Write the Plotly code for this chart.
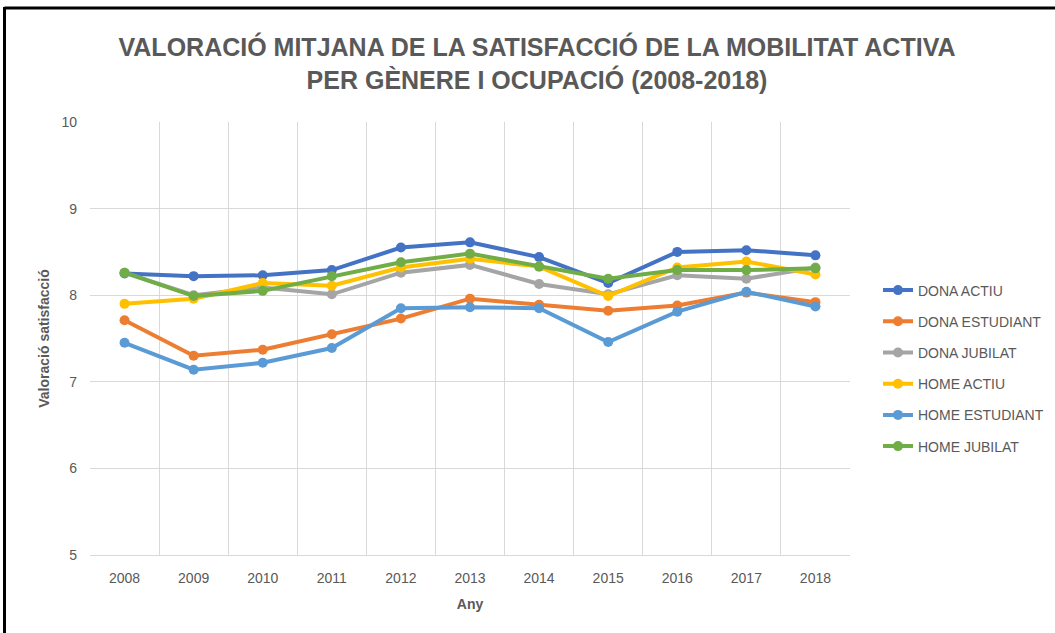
import plotly.graph_objects as go

years = ["2008", "2009", "2010", "2011", "2012", "2013", "2014", "2015", "2016", "2017", "2018"]

dona_actiu = [8.25, 8.22, 8.23, 8.29, 8.55, 8.61, 8.44, 8.14, 8.50, 8.52, 8.46]
dona_estudiant = [7.71, 7.30, 7.37, 7.55, 7.73, 7.96, 7.89, 7.82, 7.88, 8.03, 7.92]
dona_jubilat = [8.26, 8.00, 8.09, 8.01, 8.26, 8.35, 8.13, 8.01, 8.23, 8.19, 8.32]
home_actiu = [7.90, 7.96, 8.14, 8.11, 8.32, 8.42, 8.33, 7.99, 8.32, 8.39, 8.24]
home_estudiant = [7.45, 7.14, 7.22, 7.39, 7.85, 7.86, 7.85, 7.46, 7.81, 8.04, 7.87]
home_jubilat = [8.26, 7.99, 8.05, 8.22, 8.38, 8.48, 8.33, 8.19, 8.29, 8.29, 8.31]

series_names = ["DONA ACTIU", "DONA ESTUDIANT", "DONA JUBILAT", "HOME ACTIU", "HOME ESTUDIANT", "HOME JUBILAT"]
series_values = [dona_actiu, dona_estudiant, dona_jubilat, home_actiu, home_estudiant, home_jubilat]
colors = ["#4472C4", "#ED7D31", "#A5A5A5", "#FFC000", "#5B9BD5", "#70AD47"]

W, H = 1055, 633
ML, MR, MT, MB = 90, 205, 122, 78
pw, ph = W - ML - MR, H - MT - MB

def px_x(x):
    return (x - ML) / pw

def px_y(y):
    return (H - MB - y) / ph

fig = go.Figure()
for i, (name, vals, col) in enumerate(zip(series_names, series_values, colors)):
    fig.add_trace(go.Scatter(
        x=years, y=vals, name=name, mode="lines+markers",
        line=dict(color=col, width=4),
        marker=dict(color=col, size=10),
        legendgroup=f"g{i}",
    ))

grey = "#595959"
fig.update_layout(
    width=W, height=H,
    margin=dict(l=ML, r=MR, t=MT, b=MB),
    paper_bgcolor="white", plot_bgcolor="white",
    font=dict(family="Liberation Sans, Arial, sans-serif", color=grey, size=14),
    title=dict(
        text="<b>VALORACIÓ MITJANA DE LA SATISFACCIÓ DE LA MOBILITAT ACTIVA<br>PER GÈNERE I OCUPACIÓ (2008-2018)</b>",
        x=537 / W, xanchor="center", y=1 - 56 / H, yanchor="middle",
        font=dict(family="Liberation Sans, Arial, sans-serif", size=25, color=grey),
    ),
    xaxis=dict(
        type="category", range=[-0.5, 10.5],
        showgrid=True, gridcolor="#D9D9D9", gridwidth=1,
        tickson="boundaries", ticks="", showline=True, linecolor="#D9D9D9",
        tickfont=dict(size=14, color=grey), ticklabelstandoff=10,
        title=dict(text="<b>Any</b>", font=dict(size=14, color=grey), standoff=14),
        zeroline=False,
    ),
    yaxis=dict(
        range=[5, 10], dtick=1, tick0=5,
        showgrid=True, gridcolor="#D9D9D9", gridwidth=1,
        ticks="", zeroline=False, showline=False,
        tickfont=dict(size=14, color=grey), ticklabelstandoff=12,
        title=dict(text="<b>Valoració satisfacció</b>", font=dict(size=14, color=grey), standoff=8),
    ),
    legend=dict(
        xref="container", yref="container",
        x=878 / W, xanchor="left", y=1 - 368.5 / H, yanchor="middle",
        font=dict(size=14, color=grey), tracegroupgap=10,
        itemwidth=30, borderwidth=0,
        bgcolor="rgba(0,0,0,0)",
    ),
    showlegend=True,
)

# black frame lines (left and top) as in the reference image
fig.add_shape(type="line", xref="paper", yref="paper",
              x0=px_x(4.5), x1=px_x(W + 5), y0=px_y(8), y1=px_y(8),
              line=dict(color="black", width=3))
fig.add_shape(type="line", xref="paper", yref="paper",
              x0=px_x(4.5), x1=px_x(4.5), y0=px_y(7), y1=px_y(H + 5),
              line=dict(color="black", width=3))

fig.write_html("out.html", config={"displayModeBar": False},
               post_script="document.body.style.margin='0';document.body.style.overflow='hidden';")
